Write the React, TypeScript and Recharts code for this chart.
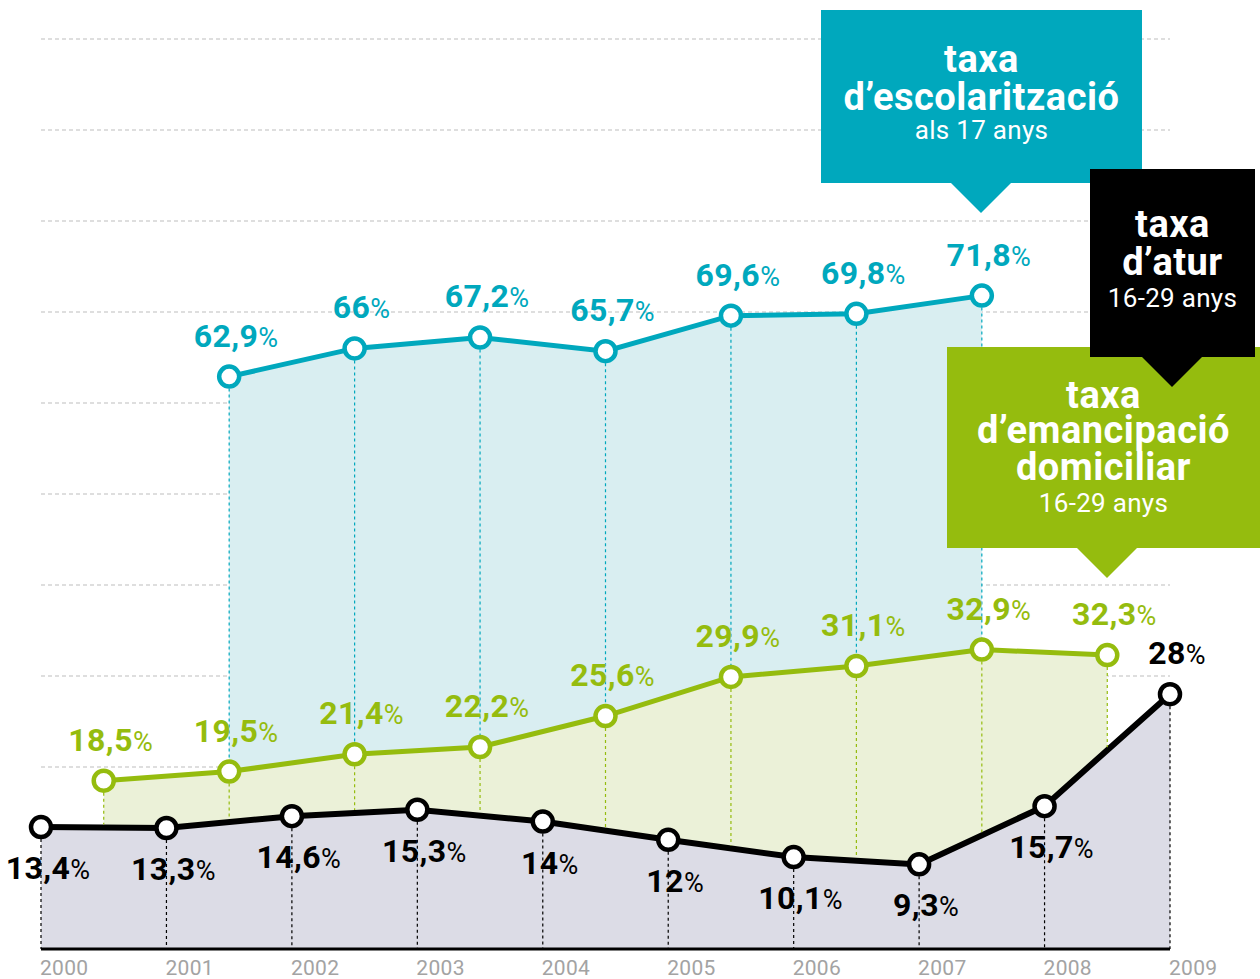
import { ComposedChart, Area, XAxis, YAxis, CartesianGrid, LabelList } from "recharts";

const FONT = "Roboto, 'DejaVu Sans', sans-serif";

// anys de l'eix
const years = [2000, 2001, 2002, 2003, 2004, 2005, 2006, 2007, 2008, 2009];

// taxa d'atur 16-29 anys
const aturYears = years;
const aturValues = [13.4, 13.3, 14.6, 15.3, 14, 12, 10.1, 9.3, 15.7, 28];

// taxa d'emancipació domiciliar 16-29 anys (punts a mig any)
const emancipacioYears = [2000.5, 2001.5, 2002.5, 2003.5, 2004.5, 2005.5, 2006.5, 2007.5, 2008.5];
const emancipacioValues = [18.5, 19.5, 21.4, 22.2, 25.6, 29.9, 31.1, 32.9, 32.3];

// taxa d'escolarització als 17 anys
const escolaritzacioYears = [2001.5, 2002.5, 2003.5, 2004.5, 2005.5, 2006.5, 2007.5];
const escolaritzacioValues = [62.9, 66, 67.2, 65.7, 69.6, 69.8, 71.8];

const gridTicks = [0, 10, 20, 30, 40, 50, 60, 70, 80, 90, 100];

const TEAL = "#00a8bd";
const TEAL_FILL = "#d9eef1";
const GREEN = "#95bc0e";
const GREEN_FILL = "#ebf1d8";
const BLACK = "#000000";
const BLACK_FILL = "#dcdce6";

const W = 1260;
const H = 979;
const TOP = 39;
const AXIS_H = 30;
const BOTTOM = H - AXIS_H; // y of the x axis line (value 0)

function pick(keys: number[], vals: number[], x: number) {
  const i = keys.indexOf(x);
  return i < 0 ? null : vals[i];
}

// value of a series at x, linear between its points
function interp(keys: number[], vals: number[], x: number) {
  for (let i = 0; i < keys.length - 1; i++) {
    if (x >= keys[i] && x <= keys[i + 1]) {
      const t = (x - keys[i]) / (keys[i + 1] - keys[i]);
      return vals[i] + t * (vals[i + 1] - vals[i]);
    }
  }
  return 0;
}

const xs = Array.from(new Set([...aturYears, ...emancipacioYears, ...escolaritzacioYears])).sort((a, b) => a - b);
const data = xs.map((x) => ({
  year: x,
  atur: pick(aturYears, aturValues, x),
  emancipacio: pick(emancipacioYears, emancipacioValues, x),
  escolaritzacio: pick(escolaritzacioYears, escolaritzacioValues, x),
}));

const fmt = (v: number) => String(v).replace(".", ",");

// hollow dot + dotted drop line down to the series below
const makeDot = (color: string, key: string, lower: (x: number) => number, gap: number) => (props: any) => {
  const { cx, cy, index, payload } = props;
  const v = payload ? payload[key] : null;
  if (v == null || cx == null || cy == null || isNaN(cy)) return <g key={"d" + index} />;
  const lo = lower(payload.year);
  const y2 = BOTTOM - (BOTTOM - cy) * (lo / v) - gap;
  return (
    <g key={"d" + index}>
      <line x1={cx} y1={cy} x2={cx} y2={y2} stroke={color} strokeWidth={1.2} strokeDasharray="3 3" />
      <circle cx={cx} cy={cy} r={10} fill="#fff" stroke={color} strokeWidth={4.5} />
    </g>
  );
};

const makeLabel = (color: string, below: (year: number) => boolean) => (props: any) => {
  const { x, y, value, index } = props;
  if (value == null || x == null || y == null) return null;
  const yr = data[index] ? data[index].year : 0;
  const ty = below(yr) ? y + 52 : y - 30;
  return (
    <text x={x + 7} y={ty} textAnchor="middle" fill={color} fontFamily={FONT} letterSpacing={0.4}>
      <tspan fontSize={32} fontWeight={700}>{fmt(value)}</tspan>
      <tspan fontSize={27} fontWeight={400}>%</tspan>
    </text>
  );
};

const YearTick = (props: any) => {
  const { x, y, payload } = props;
  return (
    <text x={x - 1} y={y + 26} textAnchor="start" fill="#a3a3a3" fontSize={21} fontFamily={FONT} letterSpacing={0.3}>
      {payload.value}
    </text>
  );
};

type Line = { text: string; y: number; bold: boolean };

const escolaritzacioTitle: Line[] = [
  { text: "taxa", y: 72, bold: true },
  { text: "d’escolarització", y: 110, bold: true },
  { text: "als 17 anys", y: 139, bold: false },
];
const aturTitle: Line[] = [
  { text: "taxa", y: 237, bold: true },
  { text: "d’atur", y: 275, bold: true },
  { text: "16-29 anys", y: 307, bold: false },
];
const emancipacioTitle: Line[] = [
  { text: "taxa", y: 408, bold: true },
  { text: "d’emancipació", y: 443, bold: true },
  { text: "domiciliar", y: 480, bold: true },
  { text: "16-29 anys", y: 512, bold: false },
];

function Callout({ x, y, w, h, tip, color, lines }: { x: number; y: number; w: number; h: number; tip: number; color: string; lines: Line[] }) {
  return (
    <g>
      <rect x={x} y={y} width={w} height={h} fill={color} />
      <polygon points={`${tip - 31},${y + h - 1} ${tip + 31},${y + h - 1} ${tip},${y + h + 30}`} fill={color} />
      {lines.map((l, i) => (
        <text
          key={i}
          x={x + w / 2}
          y={l.y}
          textAnchor="middle"
          fill="#fff"
          fontFamily={FONT}
          fontWeight={l.bold ? 700 : 400}
          fontSize={l.bold ? 38 : 26}
          letterSpacing={l.bold ? 0.5 : 0.3}
        >
          {l.text}
        </text>
      ))}
    </g>
  );
}

export default function App() {
  return (
    <div style={{ position: "absolute", left: 0, top: 0, width: W, height: H, background: "#fff" }}>
      <ComposedChart width={W} height={H} data={data} margin={{ top: TOP, right: 90, left: 41, bottom: 0 }}>
        <CartesianGrid vertical={false} stroke="#bdbdbd" strokeDasharray="4 3" />
        <XAxis
          dataKey="year"
          type="number"
          domain={[2000, 2009]}
          ticks={years}
          interval={0}
          tick={<YearTick />}
          tickLine={false}
          tickSize={0}
          tickMargin={0}
          height={AXIS_H}
          axisLine={{ stroke: BLACK, strokeWidth: 3 }}
        />
        <YAxis hide domain={[0, 100]} ticks={gridTicks} />
        <Area
          type="linear"
          dataKey="escolaritzacio"
          stroke={TEAL}
          strokeWidth={5}
          fill={TEAL_FILL}
          fillOpacity={1}
          connectNulls
          dot={makeDot(TEAL, "escolaritzacio", (x) => pick(emancipacioYears, emancipacioValues, x) ?? 0, 0)}
          activeDot={false}
          isAnimationActive={false}
        >
          <LabelList dataKey="escolaritzacio" content={makeLabel(TEAL, () => false)} />
        </Area>
        <Area
          type="linear"
          dataKey="emancipacio"
          stroke={GREEN}
          strokeWidth={5}
          fill={GREEN_FILL}
          fillOpacity={1}
          connectNulls
          dot={makeDot(GREEN, "emancipacio", (x) => interp(aturYears, aturValues, x), 3)}
          activeDot={false}
          isAnimationActive={false}
        >
          <LabelList dataKey="emancipacio" content={makeLabel(GREEN, () => false)} />
        </Area>
        <Area
          type="linear"
          dataKey="atur"
          stroke={BLACK}
          strokeWidth={6}
          fill={BLACK_FILL}
          fillOpacity={1}
          connectNulls
          dot={makeDot(BLACK, "atur", () => 0, 0)}
          activeDot={false}
          isAnimationActive={false}
        >
          <LabelList dataKey="atur" content={makeLabel(BLACK, (yr) => yr !== years[years.length - 1])} />
        </Area>
      </ComposedChart>
      <svg width={W} height={H} style={{ position: "absolute", left: 0, top: 0, pointerEvents: "none" }}>
        <Callout x={821} y={10} w={321} h={173} tip={981} color={TEAL} lines={escolaritzacioTitle} />
        <Callout x={947} y={347} w={313} h={201} tip={1107} color={GREEN} lines={emancipacioTitle} />
        <Callout x={1090} y={169} w={165} h={188} tip={1172} color={BLACK} lines={aturTitle} />
      </svg>
    </div>
  );
}
